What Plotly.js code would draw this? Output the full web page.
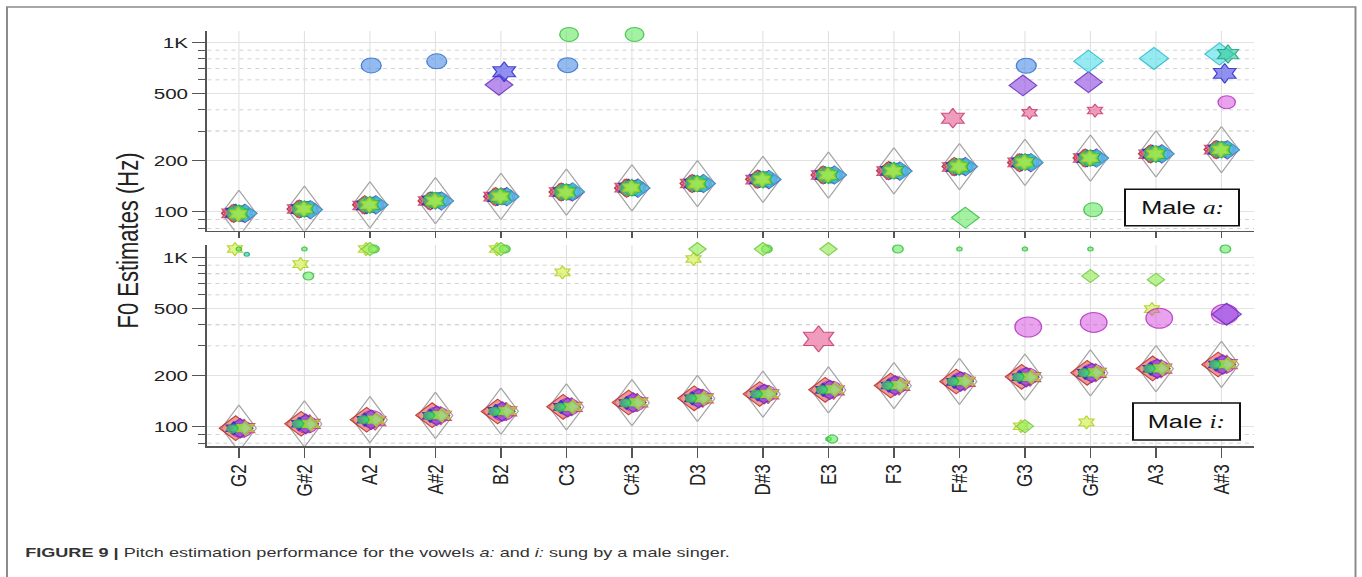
<!DOCTYPE html>
<html><head><meta charset="utf-8">
<script src="https://cdn.plot.ly/plotly-3.0.1.min.js"></script>
<style>
html,body{margin:0;padding:0;background:#fff;overflow:hidden;}
#wrap{width:1362px;height:577px;overflow:hidden;position:relative;}
#chart{transform-origin:0 0;position:absolute;left:0;top:0;}
</style></head><body><div id="wrap"><div id="chart"></div></div>
<script>
// ---------------- DATA ----------------
const notes = ['G2','G#2','A2','A#2','B2','C3','C#3','D3','D#3','E3','F3','F#3','G3','G#3','A3','A#3'];
const targetHz = [98.0,103.8,110.0,116.5,123.5,130.8,138.6,146.8,155.6,164.8,174.6,185.0,196.0,207.7,220.0,233.1];
const yTickVals = [100,200,500,1000];
const yTickText = ['100','200','500','1K'];
const yMinorVals = [80,90,300,400,600,700,800,900];

// vowel a: — estimates near the sung pitch
const aRedDiamond     = [98,104,110,116,123,131,138,147,156,165,175,185,195,208,220,233];
const aPinkStar       = [98,104,109,116,123,131,139,147,155,165,174,184,196,208,219,233];
const aMagentaCircle  = [97,104,110,117,124,130,139,146,156,164,175,185,196,207,220,233];
const aPurpleDiamond  = [98,103,110,116,123,131,138,147,155,165,174,185,195,208,220,232];
const aBlueStar       = [99,104,109,117,122,131,139,147,156,165,175,184,196,207,221,233];
const aBlueCircle     = [98,104,110,117,122,131,138,146,155,164,175,185,196,208,220,234];
const aCyanDiamond    = [98,103,110,116,123,132,138,147,156,165,174,185,196,207,220,233];
const aTealStar       = [98,104,110,116,124,131,139,147,155,164,175,184,197,208,219,233];
const aGreenCircle    = [98,104,110,117,123,131,138,147,156,165,175,185,196,207,220,233];
const aYellowStar     = [97,104,110,116,123,130,139,146,155,165,174,185,196,208,220,232];

// vowel a: — gross errors
const aOutBlueCircleNotes = ['A2','A#2','C3','G3'];       const aOutBlueCircleHz = [731,773,734,728];
const aOutGreenCircleNotes = ['C3','C#3','G#3'];          const aOutGreenCircleHz = [1114,1114,103];
const aOutPurpleDiamondNotes = ['B2','G3','G#3'];         const aOutPurpleDiamondHz = [562,557,582];
const aOutBlueStarNotes = ['B2','A#3'];                   const aOutBlueStarHz = [671,656];
const aOutCyanDiamondNotes = ['G#3','A3','A#3'];          const aOutCyanDiamondHz = [774,804,853];
const aOutTealStarNotes = ['A#3'];                        const aOutTealStarHz = [853];
const aOutPinkStarNotes = ['F#3'];                        const aOutPinkStarHz = [357];
const aOutPinkStarSmallNotes = ['G3','G#3'];              const aOutPinkStarSmallHz = [384,396];
const aOutMagentaCircleNotes = ['A#3'];                   const aOutMagentaCircleHz = [443];
const aOutGreenDiamondNotes = ['F#3'];                    const aOutGreenDiamondHz = [92.5];

// vowel i: — estimates near the sung pitch
const iRedDiamond     = [98,104,110,117,123,131,139,147,156,165,175,185,197,208,221,233];
const iPinkStar       = [98,104,108,116,123,131,139,147,155,164,174,184,196,208,220,234];
const iMagentaCircle  = [97,103,111,117,122,131,138,148,157,166,176,186,198,209,221,232];
const iPurpleDiamond  = [98,104,110,116,123,130,139,147,156,165,175,185,196,208,220,233];
const iBlueStar       = [98,104,110,116,124,131,138,147,155,165,175,184,196,208,220,233];
const iBlueCircle     = [98,104,110,117,123,131,139,146,156,164,174,185,196,207,220,233];
const iCyanDiamond    = [98,103,110,116,123,131,138,147,156,165,175,185,196,208,220,233];
const iTealStar       = [98,104,110,117,123,131,139,147,155,165,174,185,197,208,220,232];
const iGreenCircle    = [97,104,110,116,123,130,138,147,156,165,175,185,196,208,220,233];
const iYellowStar     = [98,104,110,117,124,131,139,147,156,166,176,186,197,209,221,234];

// vowel i: — gross errors
const iOutYellowStarNotes = ['G2','G#2','A2','B2','C3','D3','G3','G#3','A3']; const iOutYellowStarHz = [1120,912,1120,1120,815,977,100.6,106,495];
const iOutGreenDotNotes = ['G2','G#2','F#3','G3','G#3','E3'];                 const iOutGreenDotHz = [1120,1120,1120,1120,1120,84.5];
const iOutTealDotNotes = ['G2'];                                              const iOutTealDotHz = [1042];
const iOutGreenCircleNotes = ['G#2','A2','B2','D#3','E3','F3','A#3'];         const iOutGreenCircleHz = [776,1120,1120,1120,84.5,1120,1120];
const iOutGreenDiamondNotes = ['A2','B2','D3','D#3','E3','G3','G#3','A3'];    const iOutGreenDiamondHz = [1120,1120,1120,1120,1120,100.6,776,738];
const iOutPinkStarNotes = ['E3'];                                             const iOutPinkStarHz = [330];
const iOutMagentaCircleNotes = ['G3','G#3','A3','A#3'];                       const iOutMagentaCircleHz = [388,413,437,462];
const iOutPurpleDiamondNotes = ['A#3'];                                       const iOutPurpleDiamondHz = [462];

// ---------------- STYLE / LAYOUT ----------------
const S = 1.33;                 // horizontal stretch of the reference image
const W = Math.round(1362 / S), H = 577;
const ML = 156, MR = W - 943, MT = 31, MB = 131;
const PW = W - ML - MR, PH = H - MT - MB;
const px = xr => (xr / S - ML) / PW;
const py = yr => (MT + PH - yr) / PH;

const C = {
  red:    ['rgba(226,70,60,0.55)',  'rgba(190,40,35,0.85)'],
  pink:   ['rgba(228,90,145,0.6)',  'rgba(200,60,110,0.85)'],
  magenta:['rgba(212,70,222,0.5)',  'rgba(175,40,190,0.8)'],
  purple: ['rgba(140,70,225,0.6)',  'rgba(105,45,190,0.85)'],
  blue:   ['rgba(70,70,232,0.6)',   'rgba(45,45,200,0.85)'],
  lblue:  ['rgba(90,150,230,0.65)', 'rgba(50,110,200,0.85)'],
  cyan:   ['rgba(80,220,232,0.6)',  'rgba(40,185,200,0.85)'],
  teal:   ['rgba(45,200,150,0.6)',  'rgba(25,165,120,0.85)'],
  green:  ['rgba(90,230,90,0.55)',  'rgba(50,190,60,0.85)'],
  lgreen: ['rgba(150,235,90,0.65)', 'rgba(110,200,60,0.85)'],
  yellow: ['rgba(205,240,60,0.6)',  'rgba(175,205,30,0.85)']
};
function mk(color, symbol, size){ return {symbol:symbol, size:size, color:C[color][0], line:{color:C[color][1], width:1}}; }

const traces = [];
// hollow target diamonds, built around each target pitch (half-width in categories, half-height as a frequency ratio)
const DW = 0.265, DK = 1.37;
function targets(ax){
  const xs = [], ys = [];
  targetHz.forEach((f, i) => {
    xs.push(i - DW, i, i + DW, i, i - DW, null);
    ys.push(f, f * DK, f, f / DK, f, null);
  });
  traces.push({type:'scatter', mode:'lines', x:xs, y:ys, xaxis:ax[0], yaxis:ax[1],
    line:{color:'#a4a4a4', width:1}, hoverinfo:'skip', cliponaxis:false});
}
function cluster(ax, vals, dx, m){
  traces.push({type:'scatter', mode:'markers', x:vals.map((v,i)=>i+dx), y:vals, xaxis:ax[0], yaxis:ax[1], marker:m, cliponaxis:false});
}
function outl(ax, ns, vals, dx, m){
  traces.push({type:'scatter', mode:'markers', x:ns.map(n=>notes.indexOf(n)+dx), y:vals, xaxis:ax[0], yaxis:ax[1], marker:m, cliponaxis:false});
}
const AX_A = ['x','y'], AX_I = ['x2','y2'];

targets(AX_A);
cluster(AX_A, aRedDiamond,   -0.08, mk('red','diamond',14));
cluster(AX_A, aPinkStar,     -0.11, mk('pink','hexagram',13));
cluster(AX_A, aMagentaCircle, 0.06, mk('magenta','circle',15));
cluster(AX_A, aPurpleDiamond, 0.09, mk('purple','diamond',14));
cluster(AX_A, aBlueStar,     -0.05, mk('blue','hexagram',13));
cluster(AX_A, aBlueCircle,    0.03, mk('lblue','circle',15));
cluster(AX_A, aCyanDiamond,   0.10, mk('cyan','diamond',13));
cluster(AX_A, aTealStar,      0.00, mk('teal','hexagram',13));
cluster(AX_A, aGreenCircle,  -0.03, mk('green','circle',15));
cluster(AX_A, aYellowStar,   -0.01, mk('yellow','hexagram',11));
outl(AX_A, aOutBlueCircleNotes, aOutBlueCircleHz, 0.02, mk('lblue','circle',15));
outl(AX_A, aOutGreenCircleNotes, aOutGreenCircleHz, 0.04, mk('green','circle',14));
outl(AX_A, aOutPurpleDiamondNotes, aOutPurpleDiamondHz, -0.03, mk('purple','diamond',16));
outl(AX_A, aOutBlueStarNotes, aOutBlueStarHz, 0.05, mk('blue','hexagram',15));
outl(AX_A, aOutCyanDiamondNotes, aOutCyanDiamondHz, -0.03, mk('cyan','diamond',17));
outl(AX_A, aOutTealStarNotes, aOutTealStarHz, 0.10, mk('teal','hexagram',14));
outl(AX_A, aOutPinkStarNotes, aOutPinkStarHz, -0.10, mk('pink','hexagram',15));
outl(AX_A, aOutPinkStarSmallNotes, aOutPinkStarSmallHz, 0.07, mk('pink','hexagram',10));
outl(AX_A, aOutMagentaCircleNotes, aOutMagentaCircleHz, 0.08, mk('magenta','circle',13));
outl(AX_A, aOutGreenDiamondNotes, aOutGreenDiamondHz, 0.09, mk('green','diamond',16));

targets(AX_I);
cluster(AX_I, iRedDiamond,   -0.05, mk('red','diamond',19));
cluster(AX_I, iPinkStar,      0.08, mk('pink','hexagram',14));
cluster(AX_I, iMagentaCircle, 0.03, mk('magenta','circle',17));
cluster(AX_I, iPurpleDiamond, 0.02, mk('purple','diamond',15));
cluster(AX_I, iBlueStar,     -0.08, mk('blue','hexagram',10));
cluster(AX_I, iBlueCircle,    0.00, mk('lblue','circle',7));
cluster(AX_I, iCyanDiamond,   0.07, mk('cyan','diamond',8));
cluster(AX_I, iTealStar,     -0.03, mk('teal','hexagram',7));
cluster(AX_I, iGreenCircle,  -0.10, mk('green','circle',8));
cluster(AX_I, iYellowStar,    0.10, mk('yellow','hexagram',11));
outl(AX_I, iOutYellowStarNotes, iOutYellowStarHz, -0.06, mk('yellow','hexagram',10));
outl(AX_I, iOutGreenDotNotes, iOutGreenDotHz, 0.00, mk('green','circle',4));
outl(AX_I, iOutTealDotNotes, iOutTealDotHz, 0.12, mk('teal','circle',4));
outl(AX_I, iOutGreenCircleNotes, iOutGreenCircleHz, 0.06, mk('green','circle',8));
outl(AX_I, iOutGreenDiamondNotes, iOutGreenDiamondHz, 0.00, mk('lgreen','diamond',10));
outl(AX_I, iOutPinkStarNotes, iOutPinkStarHz, -0.15, mk('pink','hexagram',20));
outl(AX_I, iOutMagentaCircleNotes, iOutMagentaCircleHz, 0.05, mk('magenta','circle',20));
outl(AX_I, iOutPurpleDiamondNotes, iOutPurpleDiamondHz, 0.08, mk('purple','diamond',17));

const FONT = 'Liberation Sans, Arial, Helvetica, sans-serif';
const xBase = {range:[-0.48,15.5], tickmode:'array', tickvals:notes.map((n,i)=>i), ticktext:notes,
  showline:true, linecolor:'#555', linewidth:1.5, ticks:'outside', tickcolor:'#555', tickwidth:1,
  showgrid:true, gridcolor:'#e0e0e0', gridwidth:0.8, zeroline:false, fixedrange:true};
const yBase = {type:'log', tickmode:'array', tickvals:yTickVals, ticktext:yTickText, ticks:'outside', ticklen:10,
  tickcolor:'#555', tickwidth:1, showline:true, linecolor:'#555', linewidth:1.5, gridcolor:'#e2e2e2', gridwidth:1.2,
  tickfont:{size:15.5, color:'#222', family:FONT}, zeroline:false, fixedrange:true,
  minor:{tickmode:'array', tickvals:yMinorVals, ticks:'outside', ticklen:6, tickcolor:'#555', tickwidth:1,
         showgrid:true, gridcolor:'#c4c4c4', griddash:'dot', gridwidth:0.8}};

const layout = {
  width:W, height:H, margin:{l:ML, r:MR, t:MT, b:MB}, showlegend:false,
  paper_bgcolor:'#fff', plot_bgcolor:'#fff', font:{family:FONT, color:'#222'},
  xaxis: Object.assign({}, xBase, {anchor:'y', showticklabels:false, ticklen:6}),
  xaxis2: Object.assign({}, xBase, {anchor:'y2', ticklen:10, tickangle:-90, tickfont:{size:17, color:'#222', family:FONT}}),
  yaxis: Object.assign({}, yBase, {anchor:'x', domain:[py(230.7),1], range:[1.889,3.067]}),
  yaxis2: Object.assign({}, yBase, {anchor:'x2', domain:[0,py(245)], range:[1.886,3.073]}),
  shapes:[
    {type:'rect', xref:'paper', yref:'paper', x0:px(7), x1:px(1355.5), y0:py(7), y1:py(620), line:{color:'#8c8c8c', width:1.5}, fillcolor:'rgba(0,0,0,0)', layer:'above'},
    {type:'rect', xref:'paper', yref:'paper', x0:px(1125), x1:px(1239), y0:py(189.3), y1:py(225.7), line:{color:'#111', width:1.5}, fillcolor:'#fff', layer:'above'},
    {type:'rect', xref:'paper', yref:'paper', x0:px(1133), x1:px(1240), y0:py(403), y1:py(440), line:{color:'#111', width:1.5}, fillcolor:'#fff', layer:'above'}
  ],
  annotations:[
    {xref:'paper', yref:'paper', x:px(127), y:py(240), text:'F0 Estimates (Hz)', textangle:-90, showarrow:false,
     xanchor:'center', yanchor:'middle', font:{size:22, color:'#222', family:FONT}},
    {xref:'paper', yref:'paper', x:px(1182), y:py(207.5), text:'Male <i><span style="font-family:Liberation Serif">a:</span></i>', showarrow:false,
     xanchor:'center', yanchor:'middle', font:{size:19, color:'#111', family:FONT}},
    {xref:'paper', yref:'paper', x:px(1186.5), y:py(421.5), text:'Male <i><span style="font-family:Liberation Serif">i:</span></i>', showarrow:false,
     xanchor:'center', yanchor:'middle', font:{size:19, color:'#111', family:FONT}},
    {xref:'paper', yref:'paper', x:px(22), y:py(552), xanchor:'left', yanchor:'middle', showarrow:false,
     text:'<b>FIGURE 9 |</b> Pitch estimation performance for the vowels <i>a:</i> and <i>i:</i> sung by a male singer.',
     font:{size:13.6, color:'#333', family:FONT}}
  ]
};

const el = document.getElementById('chart');
el.style.transform = 'scaleX(' + S + ')';
Plotly.newPlot(el, traces, layout, {displayModeBar:false, staticPlot:true});
</script></body></html>
